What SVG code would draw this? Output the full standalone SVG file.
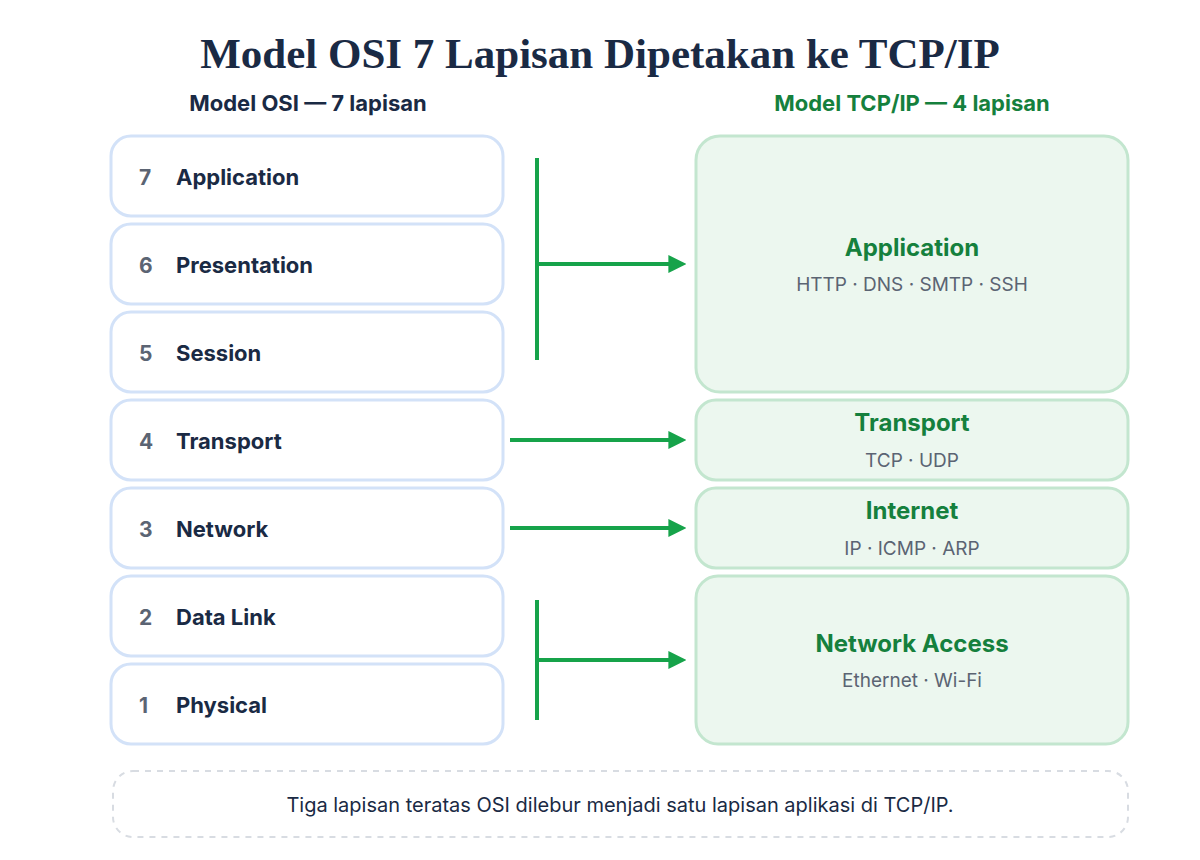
<svg xmlns="http://www.w3.org/2000/svg" width="1200" height="860" viewBox="0 0 1200 860">
<defs>
<marker id="ah" viewBox="0 0 10 10" refX="2" refY="5" markerWidth="18" markerHeight="20" markerUnits="userSpaceOnUse" orient="auto"><path d="M0,0 L10,5 L0,10 z" fill="#16a34a"/></marker>
<style>
.osi{fill:#fff;stroke:#d3e2f8;stroke-width:3}
.tcp{fill:#ecf7ef;stroke:#c3e6cf;stroke-width:3}
.num{font:700 21px Inter,"Noto Sans",sans-serif;fill:#5b6473}
.nm{font:700 22px Inter,"Noto Sans",sans-serif;fill:#1a2a44}
.tt{font:700 24px Inter,"Noto Sans",sans-serif;fill:#15803d;text-anchor:middle}
.pr{font:400 19px Inter,"Noto Sans",sans-serif;fill:#5b6473;text-anchor:middle}
.ln{stroke:#16a34a;stroke-width:4;fill:none}
</style>
</defs>
<rect width="1200" height="860" fill="#fff"/>
<text x="600" y="68" text-anchor="middle" style="font:700 43px 'Liberation Serif','DejaVu Serif',serif;fill:#1a2a44">Model OSI 7 Lapisan Dipetakan ke TCP/IP</text>
<text x="308" y="111" text-anchor="middle" style="font:700 22px Inter,'Noto Sans',sans-serif;fill:#1a2a44">Model OSI — 7 lapisan</text>
<text x="912" y="111" text-anchor="middle" style="font:700 22px Inter,'Noto Sans',sans-serif;fill:#15803d">Model TCP/IP — 4 lapisan</text>
<g id="osi7"><rect class="osi" x="111" y="136" width="392" height="80" rx="20"/><text class="num" x="139" y="185">7</text><text class="nm" x="176" y="185">Application</text></g>
<g id="osi6"><rect class="osi" x="111" y="224" width="392" height="80" rx="20"/><text class="num" x="139" y="273">6</text><text class="nm" x="176" y="273">Presentation</text></g>
<g id="osi5"><rect class="osi" x="111" y="312" width="392" height="80" rx="20"/><text class="num" x="139" y="361">5</text><text class="nm" x="176" y="361">Session</text></g>
<g id="osi4"><rect class="osi" x="111" y="400" width="392" height="80" rx="20"/><text class="num" x="139" y="449">4</text><text class="nm" x="176" y="449">Transport</text></g>
<g id="osi3"><rect class="osi" x="111" y="488" width="392" height="80" rx="20"/><text class="num" x="139" y="537">3</text><text class="nm" x="176" y="537">Network</text></g>
<g id="osi2"><rect class="osi" x="111" y="576" width="392" height="80" rx="20"/><text class="num" x="139" y="625">2</text><text class="nm" x="176" y="625">Data Link</text></g>
<g id="osi1"><rect class="osi" x="111" y="664" width="392" height="80" rx="20"/><text class="num" x="139" y="713">1</text><text class="nm" x="176" y="713">Physical</text></g>
<g id="tcp-app"><rect class="tcp" x="696" y="136" width="432" height="256" rx="24"/><text class="tt" x="912" y="256">Application</text><text class="pr" x="912" y="291">HTTP · DNS · SMTP · SSH</text></g>
<g id="tcp-transport"><rect class="tcp" x="696" y="400" width="432" height="80" rx="20"/><text class="tt" x="912" y="431">Transport</text><text class="pr" x="912" y="467">TCP · UDP</text></g>
<g id="tcp-internet"><rect class="tcp" x="696" y="488" width="432" height="80" rx="20"/><text class="tt" x="912" y="519">Internet</text><text class="pr" x="912" y="555">IP · ICMP · ARP</text></g>
<g id="tcp-na"><rect class="tcp" x="696" y="576" width="432" height="168" rx="22"/><text class="tt" x="912" y="652">Network Access</text><text class="pr" x="912" y="687">Ethernet · Wi-Fi</text></g>
<g id="connectors">
<path class="ln" d="M537,158 V360"/><path class="ln" d="M537,264 H672" marker-end="url(#ah)"/>
<path class="ln" d="M510,440 H672" marker-end="url(#ah)"/>
<path class="ln" d="M510,528 H672" marker-end="url(#ah)"/>
<path class="ln" d="M537,600 V720"/><path class="ln" d="M537,660 H672" marker-end="url(#ah)"/>
</g>
<g id="note"><rect x="113" y="771" width="1015" height="66" rx="20" fill="#fff" stroke="#d8dce2" stroke-width="2" stroke-dasharray="6 6"/><text x="620" y="812" text-anchor="middle" style="font:400 20px Inter,'Noto Sans',sans-serif;fill:#1a2a44">Tiga lapisan teratas OSI dilebur menjadi satu lapisan aplikasi di TCP/IP.</text></g>
</svg>
